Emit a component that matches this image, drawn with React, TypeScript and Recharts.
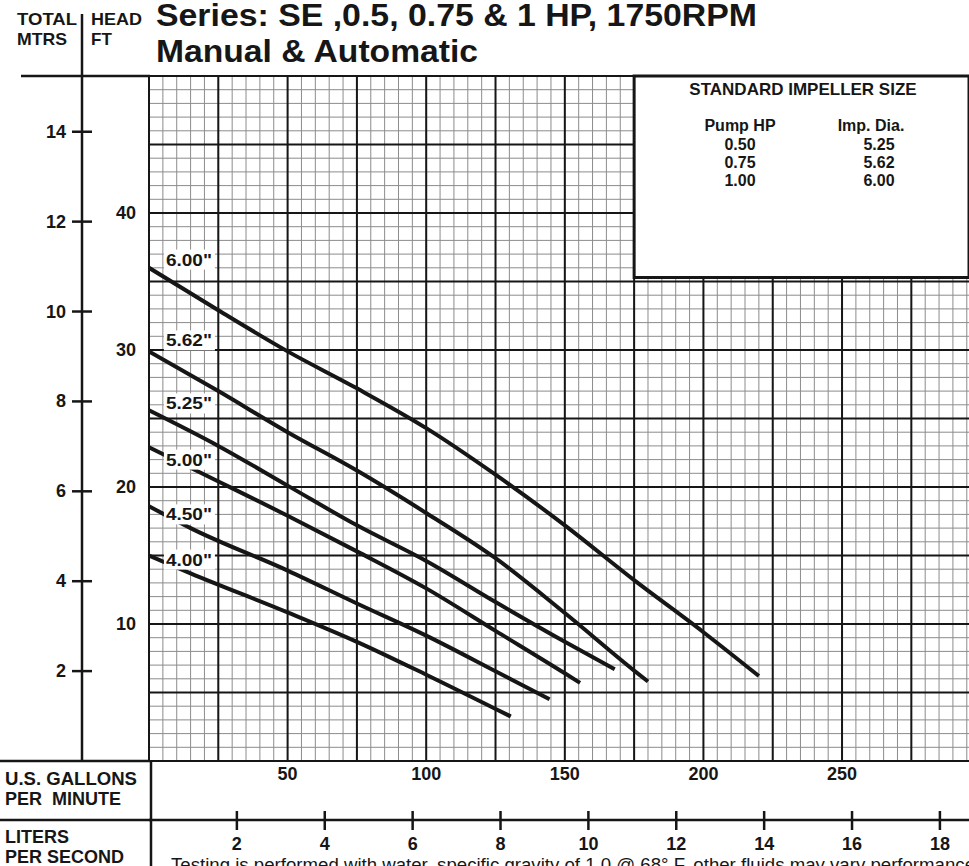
import React from 'react';
import {
  ComposedChart,
  Line,
  XAxis,
  YAxis,
  CartesianGrid,
  ReferenceArea,
  ReferenceDot,
} from 'recharts';

const FONT = '"Liberation Sans", Arial, Helvetica, sans-serif';
const INK = '#161616';

// ---- Pump curves (US GPM vs Total head in FT) ----
const GPM_600 = [0, 25, 50, 75, 100, 125, 150, 175, 200, 220];
const FT_600 = [36.0, 32.9, 29.9, 27.2, 24.3, 20.9, 17.2, 13.2, 9.4, 6.2];
const GPM_562 = [0, 25, 50, 75, 100, 125, 150, 175, 180];
const FT_562 = [29.9, 27.0, 24.0, 21.2, 18.1, 14.8, 10.8, 6.6, 5.8];
const GPM_525 = [0, 25, 50, 75, 100, 125, 150, 168];
const FT_525 = [25.6, 23.0, 20.1, 17.2, 14.6, 11.6, 8.7, 6.7];
const GPM_500 = [0, 19, 50, 75, 100, 125, 150, 155.5];
const FT_500 = [22.9, 21.0, 17.9, 15.3, 12.6, 9.5, 6.4, 5.7];
const GPM_450 = [0, 15, 50, 75, 100, 125, 144.5];
const FT_450 = [18.6, 17.0, 13.9, 11.5, 9.15, 6.55, 4.5];
const GPM_400 = [0, 15, 50, 75, 100, 130.5];
const FT_400 = [15.0, 13.7, 10.85, 8.7, 6.3, 3.25];

// curve labels and their anchor (gpm, ft)
const CURVE_NAMES = ['6.00"', '5.62"', '5.25"', '5.00"', '4.50"', '4.00"'];
const LABEL_GPM = 14.4;
const LABEL_FT = [36.6, 30.7, 26.1, 22.0, 18.0, 14.7];

// ---- Axes ----
const GPM_TICKS = [50, 100, 150, 200, 250];
const FT_TICKS = [10, 20, 30, 40];
const M_TICKS = [2, 4, 6, 8, 10, 12, 14];
const LPS_TICKS = [2, 4, 6, 8, 10, 12, 14, 16, 18];
const GPM_MAX = 295.8;
const FT_MAX = 50;
const FT_PER_M = 3.28084;
const GPM_PER_LPS = 15.8503;

const GPM_MINOR = Array.from({ length: 60 }, (_, i) => i * 5);
const GPM_MAJOR = Array.from({ length: 12 }, (_, i) => i * 25);
const FT_MINOR = Array.from({ length: 51 }, (_, i) => i);
const FT_MAJOR = Array.from({ length: 11 }, (_, i) => i * 5);

// ---- Inset table ----
const TABLE_TITLE = 'STANDARD IMPELLER SIZE';
const PUMP_HP = ['0.50', '0.75', '1.00'];
const IMP_DIA = ['5.25', '5.62', '6.00'];

const toRows = (xs: number[], ys: number[]) => xs.map((g, i) => ({ gpm: g, ft: ys[i] }));
const CURVES = [
  toRows(GPM_600, FT_600),
  toRows(GPM_562, FT_562),
  toRows(GPM_525, FT_525),
  toRows(GPM_500, FT_500),
  toRows(GPM_450, FT_450),
  toRows(GPM_400, FT_400),
];

const bold = { fontFamily: FONT, fontWeight: 'bold' as const, fill: INK };

const GpmTick = (p: any) => (
  <text x={p.x} y={p.y + 19} textAnchor="middle" fontSize={18} {...bold}>
    {p.payload.value}
  </text>
);
const FtTick = (p: any) => (
  <text x={p.x} y={p.y + 6} textAnchor="end" fontSize={18} {...bold}>
    {p.payload.value}
  </text>
);
const MTick = (p: any) => (
  <g>
    <line x1={p.x - 10} x2={p.x + 10} y1={p.y} y2={p.y} stroke={INK} strokeWidth={2.5} />
    <text x={p.x - 16} y={p.y + 6} textAnchor="end" fontSize={18} {...bold}>
      {p.payload.value}
    </text>
  </g>
);
const LpsTick = (p: any) => (
  <g>
    <line x1={p.x} x2={p.x} y1={p.y - 9} y2={p.y + 10} stroke={INK} strokeWidth={2.5} />
    <text x={p.x} y={p.y + 30} textAnchor="middle" fontSize={18} {...bold}>
      {p.payload.value}
    </text>
  </g>
);

const makeLabelShape = (name: string) => (p: any) => (
  <g>
    <rect x={p.cx - 25} y={p.cy - 10} width={51} height={20} fill="#fff" />
    <text
      x={p.cx - 23}
      y={p.cy + 6}
      fontSize={17}
      textLength={46}
      lengthAdjust="spacingAndGlyphs"
      {...bold}
    >
      {name}
    </text>
  </g>
);

export default function App() {
  return (
    <div style={{ position: 'absolute', left: 0, top: 0, width: 969, height: 866, background: '#fff', overflow: 'hidden' }}>
      <ComposedChart
        width={969}
        height={866}
        margin={{ top: 76, right: 0, bottom: 0, left: 0 }}
      >
        <XAxis
          xAxisId="gpm"
          dataKey="gpm"
          type="number"
          domain={[0, GPM_MAX]}
          allowDataOverflow
          ticks={GPM_TICKS}
          interval={0}
          height={59}
          axisLine={false}
          tickLine={false}
          tickSize={0}
          tickMargin={0}
          tick={GpmTick}
        />
        <XAxis
          xAxisId="lps"
          dataKey="lps"
          type="number"
          domain={[0, GPM_MAX / GPM_PER_LPS]}
          allowDataOverflow
          ticks={LPS_TICKS}
          interval={0}
          height={46}
          axisLine={{ stroke: INK, strokeWidth: 2.5 }}
          tickLine={false}
          tickSize={0}
          tickMargin={0}
          tick={LpsTick}
        />
        <YAxis
          yAxisId="ft"
          type="number"
          domain={[0, FT_MAX]}
          allowDataOverflow
          ticks={FT_TICKS}
          interval={0}
          width={67}
          axisLine={false}
          tickLine={false}
          tickSize={0}
          tickMargin={13}
          tick={FtTick}
        />
        <YAxis
          yAxisId="m"
          type="number"
          domain={[0, FT_MAX / FT_PER_M]}
          allowDataOverflow
          ticks={M_TICKS}
          interval={0}
          width={82}
          axisLine={false}
          tickLine={false}
          tickSize={0}
          tickMargin={0}
          tick={MTick}
        />
        <CartesianGrid
          xAxisId="gpm"
          yAxisId="ft"
          verticalValues={GPM_MINOR}
          horizontalValues={FT_MINOR}
          stroke="#8c8c8c"
          strokeWidth={1}
          fill="none"
        />
        <CartesianGrid
          xAxisId="gpm"
          yAxisId="ft"
          verticalValues={GPM_MAJOR}
          horizontalValues={FT_MAJOR}
          stroke={INK}
          strokeWidth={2}
          fill="none"
        />
        <ReferenceArea
          xAxisId="gpm"
          yAxisId="ft"
          x1={175}
          x2={GPM_MAX}
          y1={35.3}
          y2={FT_MAX}
          fill="#fff"
          fillOpacity={1}
          stroke={INK}
          strokeWidth={3}
          ifOverflow="visible"
        />
        {CURVES.map((d, i) => (
          <Line
            key={i}
            xAxisId="gpm"
            yAxisId="ft"
            data={d}
            dataKey="ft"
            type="monotone"
            stroke={INK}
            strokeWidth={4}
            dot={false}
            activeDot={false}
            isAnimationActive={false}
          />
        ))}
        {CURVE_NAMES.map((n, i) => (
          <ReferenceDot
            key={n}
            xAxisId="gpm"
            yAxisId="ft"
            x={LABEL_GPM}
            y={LABEL_FT[i]}
            r={1}
            shape={makeLabelShape(n)}
          />
        ))}
      </ComposedChart>
      <svg
        width={969}
        height={866}
        style={{ position: 'absolute', left: 0, top: 0, pointerEvents: 'none' }}
      >
        <g {...bold}>
          <text x={156} y={26} fontSize={31} textLength={601} lengthAdjust="spacingAndGlyphs">
            Series: SE ,0.5, 0.75 &amp; 1 HP, 1750RPM
          </text>
          <text x={156} y={62} fontSize={31} textLength={322} lengthAdjust="spacingAndGlyphs">
            Manual &amp; Automatic
          </text>
          <text x={17} y={25} fontSize={17} textLength={60} lengthAdjust="spacingAndGlyphs">TOTAL</text>
          <text x={17} y={45} fontSize={17} textLength={50} lengthAdjust="spacingAndGlyphs">MTRS</text>
          <text x={91} y={25} fontSize={17} textLength={51} lengthAdjust="spacingAndGlyphs">HEAD</text>
          <text x={91} y={45} fontSize={17}>FT</text>
          <text x={5} y={785} fontSize={18} textLength={132} lengthAdjust="spacingAndGlyphs">U.S. GALLONS</text>
          <text x={5} y={805} fontSize={18} style={{ whiteSpace: 'pre' }}>PER  MINUTE</text>
          <text x={5} y={843} fontSize={18}>LITERS</text>
          <text x={5} y={863} fontSize={18}>PER SECOND</text>
          <text x={803} y={95} fontSize={17} textAnchor="middle">{TABLE_TITLE}</text>
          <text x={740} y={131} fontSize={16} textAnchor="middle">Pump HP</text>
          <text x={871} y={131} fontSize={16} textAnchor="middle">Imp. Dia.</text>
          {PUMP_HP.map((v, i) => (
            <text key={'hp' + v} x={740} y={150 + i * 18} fontSize={16} textAnchor="middle">{v}</text>
          ))}
          {IMP_DIA.map((v, i) => (
            <text key={'d' + v} x={879} y={150 + i * 18} fontSize={16} textAnchor="middle">{v}</text>
          ))}
        </g>
        <text
          x={171}
          y={871}
          fontSize={17.5}
          fontFamily={FONT}
          fill={INK}
          textLength={804}
          lengthAdjust="spacingAndGlyphs"
        >
          Testing is performed with water, specific gravity of 1.0 @ 68° F, other fluids may vary performance
        </text>
        <g stroke={INK} strokeWidth={2.5}>
          <line x1={82} x2={82} y1={14} y2={761} />
          <line x1={21} x2={150} y1={76} y2={76} />
          <line x1={0} x2={150} y1={761} y2={761} />
          <line x1={0} x2={150} y1={820} y2={820} />
          <line x1={151} x2={151} y1={761} y2={866} />
        </g>
      </svg>
    </div>
  );
}
